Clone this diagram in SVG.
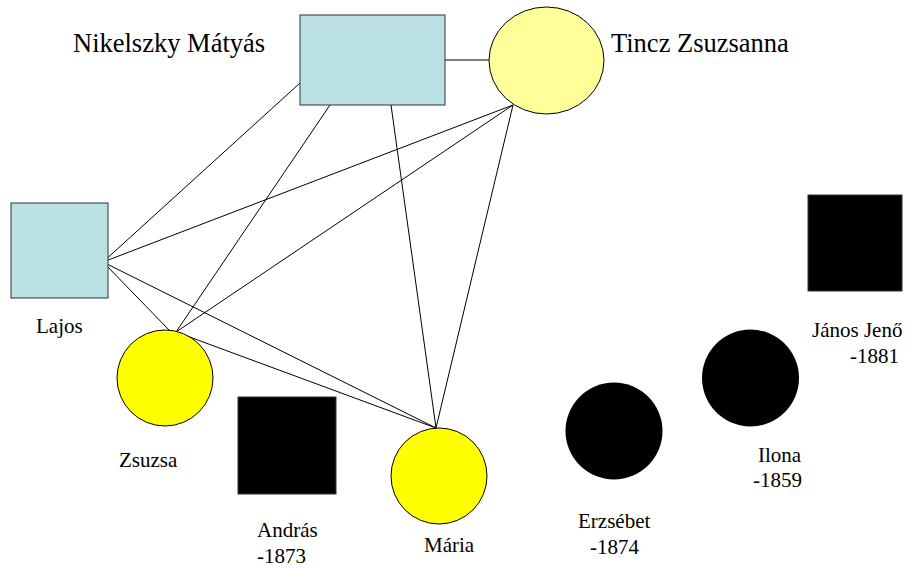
<svg xmlns="http://www.w3.org/2000/svg" width="912" height="569" viewBox="0 0 912 569">
  <style>
    text { font-family: "Liberation Serif", "Times New Roman", Tinos, "Noto Serif", "DejaVu Serif", serif; fill: #000; }
    .big { font-size: 26.5px; }
    .sm { font-size: 21px; }
    .con { stroke: #000; stroke-width: 1; fill: none; }
    .male { fill: #BBE0E3; stroke: #333; stroke-width: 1; }
    .wife { fill: #FFFF99; stroke: #000; stroke-width: 1; }
    .girl { fill: #FFFF00; stroke: #000; stroke-width: 1; }
    .dead { fill: #000; stroke: #333; stroke-width: 1; }
  </style>
  <rect width="912" height="569" fill="#fff"/>
  <g id="connectors">
    <line class="con" x1="445" y1="60" x2="489" y2="60"/>
    <line class="con" x1="300" y1="83" x2="103" y2="262"/>
    <line class="con" x1="330" y1="105" x2="176" y2="332"/>
    <line class="con" x1="391" y1="105" x2="436" y2="428"/>
    <line class="con" x1="513" y1="105" x2="103" y2="262"/>
    <line class="con" x1="513" y1="105" x2="176" y2="332"/>
    <line class="con" x1="513" y1="105" x2="436" y2="428"/>
    <line class="con" x1="103" y1="262" x2="170" y2="331"/>
    <line class="con" x1="103" y1="262" x2="436" y2="428"/>
    <line class="con" x1="176" y1="332" x2="436" y2="428"/>
  </g>
  <g id="nikelszky-matyas">
    <rect class="male" x="300" y="15" width="145" height="90"/>
    <text class="big" x="73" y="52">Nikelszky Mátyás</text>
  </g>
  <g id="tincz-zsuzsanna">
    <ellipse class="wife" cx="546.5" cy="60.5" rx="57.5" ry="53.5"/>
    <text class="big" x="611" y="52">Tincz Zsuzsanna</text>
  </g>
  <g id="lajos">
    <rect class="male" x="11" y="203" width="97" height="95"/>
    <text class="sm" x="36" y="333">Lajos</text>
  </g>
  <g id="zsuzsa">
    <circle class="girl" cx="165" cy="378" r="48"/>
    <text class="sm" x="119" y="467">Zsuzsa</text>
  </g>
  <g id="andras">
    <rect class="dead" x="238" y="397" width="98" height="97"/>
    <text class="sm" x="257" y="537">András</text>
    <text class="sm" x="257" y="563">-1873</text>
  </g>
  <g id="maria">
    <circle class="girl" cx="439" cy="476" r="48"/>
    <text class="sm" x="424" y="552">Mária</text>
  </g>
  <g id="erzsebet">
    <circle fill="#000" cx="614" cy="431" r="48.5"/>
    <text class="sm" x="578" y="528">Erzsébet</text>
    <text class="sm" x="590" y="554">-1874</text>
  </g>
  <g id="ilona">
    <circle fill="#000" cx="750.5" cy="378" r="48.5"/>
    <text class="sm" x="758" y="462">Ilona</text>
    <text class="sm" x="753" y="487">-1859</text>
  </g>
  <g id="janos-jeno">
    <rect class="dead" x="808" y="195" width="94" height="96"/>
    <text class="sm" x="812" y="337">János Jenő</text>
    <text class="sm" x="850" y="363">-1881</text>
  </g>
</svg>
